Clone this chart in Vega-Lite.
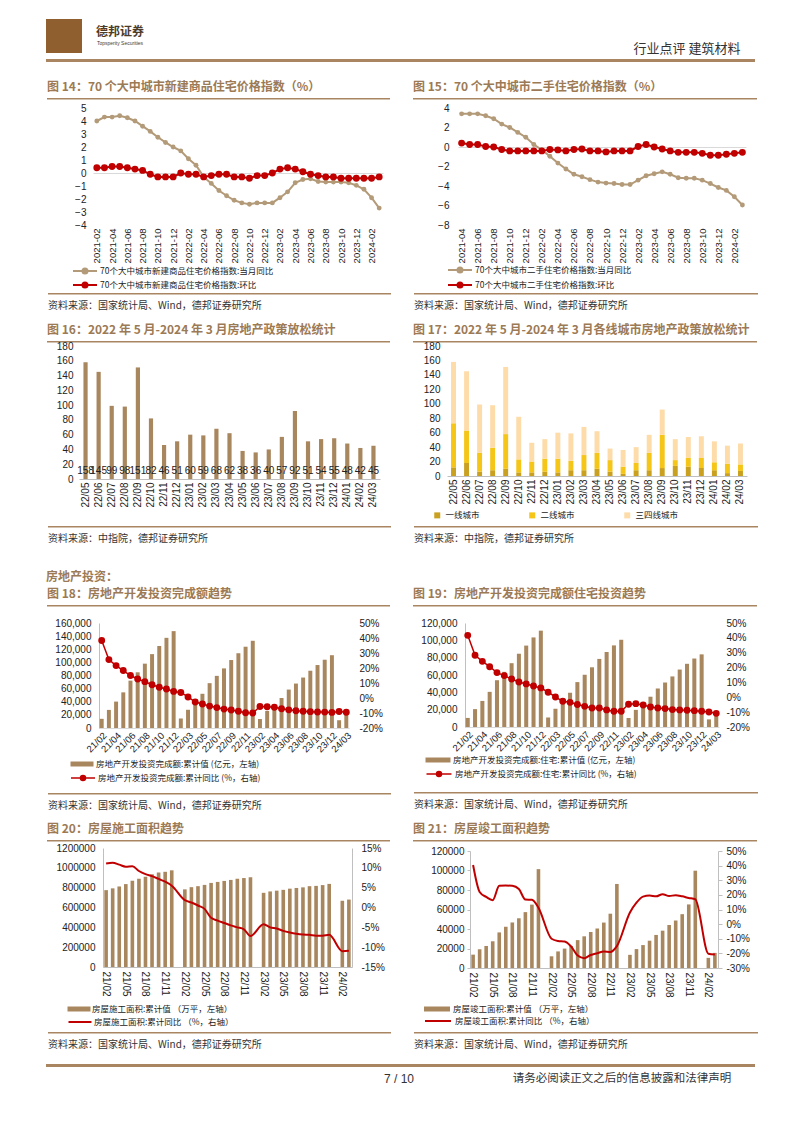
{
"$schema": "https://vega.github.io/schema/vega-lite/v6.json",
"background": "#ffffff",
"padding": {"left": 46, "top": 19, "right": 0, "bottom": 0},
"config": {
  "view": {"stroke": null},
  "font": "Liberation Sans",
  "concat": {"spacing": 0},
  "axis": {"grid": false, "ticks": false, "domain": false, "labelFont": "Liberation Sans", "labelFontSize": 10, "labelColor": "#222222", "labelOverlap": false},
  "legend": {"labelFont": "Noto Sans CJK SC", "labelFontSize": 8.5, "labelColor": "#222222", "labelLimit": 400},
  "title": {"font": "Noto Sans CJK SC", "fontSize": 12, "fontWeight": "bold", "color": "#9c7a55", "anchor": "start", "frame": "bounds"}
},
"datasets": {
  "c14": [
    {"m":"2021-02","a":4.0,"b":0.4},{"m":"2021-03","a":4.3,"b":0.4},{"m":"2021-04","a":4.3,"b":0.5},{"m":"2021-05","a":4.4,"b":0.5},
    {"m":"2021-06","a":4.25,"b":0.4},{"m":"2021-07","a":4.0,"b":0.3},{"m":"2021-08","a":3.6,"b":0.2},{"m":"2021-09","a":3.2,"b":-0.1},
    {"m":"2021-10","a":2.75,"b":-0.3},{"m":"2021-11","a":2.35,"b":-0.3},{"m":"2021-12","a":2.0,"b":-0.3},{"m":"2022-01","a":1.7,"b":0.0},
    {"m":"2022-02","a":1.1,"b":-0.1},{"m":"2022-03","a":0.6,"b":-0.1},{"m":"2022-04","a":-0.3,"b":-0.3},{"m":"2022-05","a":-0.8,"b":-0.2},
    {"m":"2022-06","a":-1.35,"b":-0.1},{"m":"2022-07","a":-1.75,"b":-0.1},{"m":"2022-08","a":-2.1,"b":-0.3},{"m":"2022-09","a":-2.3,"b":-0.3},
    {"m":"2022-10","a":-2.4,"b":-0.4},{"m":"2022-11","a":-2.3,"b":-0.2},{"m":"2022-12","a":-2.3,"b":-0.2},{"m":"2023-01","a":-2.3,"b":0.0},
    {"m":"2023-02","a":-1.9,"b":0.3},{"m":"2023-03","a":-1.45,"b":0.4},{"m":"2023-04","a":-0.75,"b":0.3},{"m":"2023-05","a":-0.5,"b":0.1},
    {"m":"2023-06","a":-0.45,"b":-0.1},{"m":"2023-07","a":-0.65,"b":-0.2},{"m":"2023-08","a":-0.7,"b":-0.3},{"m":"2023-09","a":-0.7,"b":-0.3},
    {"m":"2023-10","a":-0.7,"b":-0.4},{"m":"2023-11","a":-0.75,"b":-0.4},{"m":"2023-12","a":-0.95,"b":-0.4},{"m":"2024-01","a":-1.25,"b":-0.4},
    {"m":"2024-02","a":-1.9,"b":-0.4},{"m":"2024-03","a":-2.7,"b":-0.3}
  ],
  "c15": [
    {"m":"2021-04","a":3.4,"b":0.4},{"m":"2021-05","a":3.4,"b":0.25},{"m":"2021-06","a":3.4,"b":0.25},{"m":"2021-07","a":3.2,"b":0.05},
    {"m":"2021-08","a":2.9,"b":0.0},{"m":"2021-09","a":2.35,"b":-0.25},{"m":"2021-10","a":2.0,"b":-0.4},{"m":"2021-11","a":1.5,"b":-0.4},
    {"m":"2021-12","a":1.0,"b":-0.4},{"m":"2022-01","a":0.25,"b":-0.4},{"m":"2022-02","a":-0.3,"b":-0.4},{"m":"2022-03","a":-0.95,"b":-0.25},
    {"m":"2022-04","a":-1.65,"b":-0.3},{"m":"2022-05","a":-2.25,"b":-0.4},{"m":"2022-06","a":-2.8,"b":-0.25},{"m":"2022-07","a":-3.05,"b":-0.2},
    {"m":"2022-08","a":-3.35,"b":-0.4},{"m":"2022-09","a":-3.6,"b":-0.4},{"m":"2022-10","a":-3.7,"b":-0.5},{"m":"2022-11","a":-3.75,"b":-0.4},
    {"m":"2022-12","a":-3.85,"b":-0.4},{"m":"2023-01","a":-3.85,"b":-0.4},{"m":"2023-02","a":-3.4,"b":0.05},{"m":"2023-03","a":-2.95,"b":0.25},
    {"m":"2023-04","a":-2.75,"b":0.0},{"m":"2023-05","a":-2.55,"b":-0.2},{"m":"2023-06","a":-2.8,"b":-0.4},{"m":"2023-07","a":-3.15,"b":-0.55},
    {"m":"2023-08","a":-3.2,"b":-0.55},{"m":"2023-09","a":-3.2,"b":-0.55},{"m":"2023-10","a":-3.4,"b":-0.65},{"m":"2023-11","a":-3.75,"b":-0.85},
    {"m":"2023-12","a":-4.15,"b":-0.85},{"m":"2024-01","a":-4.45,"b":-0.75},{"m":"2024-02","a":-5.1,"b":-0.65},{"m":"2024-03","a":-5.95,"b":-0.55}
  ],
  "c16": [
    {"m":"22/05","v":158},{"m":"22/06","v":145},{"m":"22/07","v":99},{"m":"22/08","v":98},{"m":"22/09","v":151},{"m":"22/10","v":82},
    {"m":"22/11","v":46},{"m":"22/12","v":51},{"m":"23/01","v":60},{"m":"23/02","v":59},{"m":"23/03","v":68},{"m":"23/04","v":62},
    {"m":"23/05","v":38},{"m":"23/06","v":36},{"m":"23/07","v":40},{"m":"23/08","v":57},{"m":"23/09","v":92},{"m":"23/10","v":51},
    {"m":"23/11","v":54},{"m":"23/12","v":55},{"m":"24/01","v":48},{"m":"24/02","v":42},{"m":"24/03","v":45}
  ],
  "c17": [
    {"m":"22/05","a":12,"b":61,"c":85},{"m":"22/06","a":18,"b":45,"c":82},{"m":"22/07","a":6,"b":26,"c":67},{"m":"22/08","a":8,"b":31,"c":59},
    {"m":"22/09","a":10,"b":48,"c":93},{"m":"22/10","a":5,"b":18,"c":59},{"m":"22/11","a":5,"b":15,"c":26},{"m":"22/12","a":6,"b":18,"c":27},
    {"m":"23/01","a":5,"b":19,"c":36},{"m":"23/02","a":8,"b":13,"c":38},{"m":"23/03","a":8,"b":21,"c":39},{"m":"23/04","a":10,"b":22,"c":30},
    {"m":"23/05","a":6,"b":16,"c":16},{"m":"23/06","a":3,"b":10,"c":23},{"m":"23/07","a":8,"b":10,"c":22},{"m":"23/08","a":8,"b":24,"c":25},
    {"m":"23/09","a":11,"b":46,"c":35},{"m":"23/10","a":14,"b":8,"c":29},{"m":"23/11","a":13,"b":12,"c":29},{"m":"23/12","a":11,"b":14,"c":30},
    {"m":"24/01","a":8,"b":11,"c":29},{"m":"24/02","a":4,"b":13,"c":25},{"m":"24/03","a":7,"b":9,"c":29}
  ],
  "c18": [
    {"m":"21/02","v":13986,"r":38.3},{"m":"21/03","v":27576,"r":25.6},{"m":"21/04","v":40240,"r":21.6},{"m":"21/05","v":54318,"r":18.3},
    {"m":"21/06","v":72179,"r":15.0},{"m":"21/07","v":84895,"r":12.7},{"m":"21/08","v":98060,"r":10.9},{"m":"21/09","v":112568,"r":8.8},
    {"m":"21/10","v":124934,"r":7.2},{"m":"21/11","v":137388,"r":6.0},{"m":"21/12","v":147602,"r":4.4},{"m":"22/02","v":14499,"r":3.7},
    {"m":"22/03","v":27765,"r":0.7},{"m":"22/04","v":39154,"r":-2.7},{"m":"22/05","v":52134,"r":-4.0},{"m":"22/06","v":68314,"r":-5.4},
    {"m":"22/07","v":79462,"r":-6.4},{"m":"22/08","v":90809,"r":-7.4},{"m":"22/09","v":103559,"r":-8.0},{"m":"22/10","v":113945,"r":-8.8},
    {"m":"22/11","v":123863,"r":-9.8},{"m":"22/12","v":132895,"r":-10.0},{"m":"23/02","v":13669,"r":-5.7},{"m":"23/03","v":25974,"r":-5.8},
    {"m":"23/04","v":35514,"r":-6.2},{"m":"23/05","v":45701,"r":-7.2},{"m":"23/06","v":58550,"r":-7.9},{"m":"23/07","v":67717,"r":-8.5},
    {"m":"23/08","v":76900,"r":-8.8},{"m":"23/09","v":87269,"r":-9.1},{"m":"23/10","v":95922,"r":-9.3},{"m":"23/11","v":104045,"r":-9.4},
    {"m":"23/12","v":110913,"r":-9.6},{"m":"24/02","v":11842,"r":-9.0},{"m":"24/03","v":22082,"r":-9.5}
  ],
  "c19": [
    {"m":"21/02","v":10470,"r":41.7},{"m":"21/03","v":20624,"r":28.3},{"m":"21/04","v":30086,"r":24.2},{"m":"21/05","v":40564,"r":20.6},
    {"m":"21/06","v":53970,"r":16.6},{"m":"21/07","v":63626,"r":14.6},{"m":"21/08","v":73634,"r":12.3},{"m":"21/09","v":84545,"r":10.3},
    {"m":"21/10","v":93924,"r":9.0},{"m":"21/11","v":103347,"r":7.6},{"m":"21/12","v":111173,"r":6.3},{"m":"22/02","v":10988,"r":3.4},
    {"m":"22/03","v":21047,"r":0.2},{"m":"22/04","v":29703,"r":-2.7},{"m":"22/05","v":39521,"r":-3.4},{"m":"22/06","v":51804,"r":-4.9},
    {"m":"22/07","v":60281,"r":-6.1},{"m":"22/08","v":68878,"r":-7.2},{"m":"22/09","v":78556,"r":-7.2},{"m":"22/10","v":86554,"r":-8.5},
    {"m":"22/11","v":94150,"r":-9.4},{"m":"22/12","v":100646,"r":-9.4},{"m":"23/02","v":10367,"r":-4.7},{"m":"23/03","v":19767,"r":-4.3},
    {"m":"23/04","v":27085,"r":-5.2},{"m":"23/05","v":34945,"r":-6.5},{"m":"23/06","v":44439,"r":-7.2},{"m":"23/07","v":51340,"r":-7.6},
    {"m":"23/08","v":58335,"r":-8.3},{"m":"23/09","v":66279,"r":-8.5},{"m":"23/10","v":72919,"r":-8.7},{"m":"23/11","v":79016,"r":-9.0},
    {"m":"23/12","v":83820,"r":-9.4},{"m":"24/02","v":8787,"r":-9.9},{"m":"24/03","v":16585,"r":-10.8}
  ],
  "c20": [
    {"m":"21/02","v":775000,"r":11.1},{"m":"21/03","v":793000,"r":11.3},{"m":"21/04","v":812000,"r":10.8},{"m":"21/05","v":836000,"r":10.3},
    {"m":"21/06","v":870000,"r":10.4},{"m":"21/07","v":890000,"r":9.2},{"m":"21/08","v":910000,"r":8.4},{"m":"21/09","v":935000,"r":7.9},
    {"m":"21/10","v":953000,"r":7.2},{"m":"21/11","v":960000,"r":6.5},{"m":"21/12","v":975000,"r":5.5},{"m":"22/02","v":783000,"r":1.85},
    {"m":"22/03","v":805000,"r":1.25},{"m":"22/04","v":815000,"r":0.5},{"m":"22/05","v":828000,"r":-0.35},{"m":"22/06","v":848000,"r":-2.6},
    {"m":"22/07","v":858000,"r":-3.3},{"m":"22/08","v":868000,"r":-3.9},{"m":"22/09","v":878000,"r":-4.5},{"m":"22/10","v":890000,"r":-5.0},
    {"m":"22/11","v":897000,"r":-5.5},{"m":"22/12","v":905000,"r":-7.2},{"m":"23/02","v":748000,"r":-4.2},{"m":"23/03","v":762000,"r":-5.0},
    {"m":"23/04","v":770000,"r":-5.3},{"m":"23/05","v":778000,"r":-5.9},{"m":"23/06","v":790000,"r":-6.3},{"m":"23/07","v":797000,"r":-6.6},
    {"m":"23/08","v":803000,"r":-6.8},{"m":"23/09","v":815000,"r":-6.9},{"m":"23/10","v":818000,"r":-7.1},{"m":"23/11","v":826000,"r":-7.1},
    {"m":"23/12","v":838000,"r":-6.9},{"m":"24/02","v":668000,"r":-11.0},{"m":"24/03","v":680000,"r":-10.9}
  ],
  "c21": [
    {"m":"21/02","v":13700,"r":40.4},{"m":"21/03","v":19200,"r":22.0},{"m":"21/04","v":22600,"r":18.6},{"m":"21/05","v":27400,"r":16.4},
    {"m":"21/06","v":36500,"r":26.2},{"m":"21/07","v":42300,"r":26.4},{"m":"21/08","v":46700,"r":26.2},{"m":"21/09","v":51000,"r":24.0},
    {"m":"21/10","v":57300,"r":16.8},{"m":"21/11","v":65000,"r":16.6},{"m":"21/12","v":101400,"r":11.2},{"m":"22/02","v":12000,"r":-10.0},
    {"m":"22/03","v":17000,"r":-11.5},{"m":"22/04","v":19900,"r":-11.9},{"m":"22/05","v":22600,"r":-15.3},{"m":"22/06","v":28600,"r":-21.5},
    {"m":"22/07","v":32500,"r":-23.3},{"m":"22/08","v":36900,"r":-21.1},{"m":"22/09","v":40500,"r":-19.9},{"m":"22/10","v":46600,"r":-18.7},
    {"m":"22/11","v":55700,"r":-19.0},{"m":"22/12","v":86200,"r":-15.0},{"m":"23/02","v":13500,"r":8.0},{"m":"23/03","v":19400,"r":14.7},
    {"m":"23/04","v":23500,"r":18.8},{"m":"23/05","v":28000,"r":19.6},{"m":"23/06","v":33900,"r":19.0},{"m":"23/07","v":38300,"r":20.5},
    {"m":"23/08","v":44100,"r":19.2},{"m":"23/09","v":48700,"r":19.8},{"m":"23/10","v":55200,"r":19.0},{"m":"23/11","v":65200,"r":17.9},
    {"m":"23/12","v":99800,"r":17.0},{"m":"24/02","v":10400,"r":-20.2},{"m":"24/03","v":15500,"r":-20.7}
  ]
},
"columns": 1, "spacing": 14, "align": "none",
"resolve": {"scale": {"color": "independent", "fill": "independent", "stroke": "independent"}},
"concat": [
 {"columns": 1, "spacing": 12, "align": "none", "resolve": {"scale": {"color": "independent", "fill": "independent", "stroke": "independent"}}, "concat": [
  {"columns": 1, "spacing": 27, "align": "none", "resolve": {"scale": {"color": "independent", "fill": "independent", "stroke": "independent"}}, "concat": [
   {"columns": 1, "spacing": 13, "align": "none", "resolve": {"scale": {"color": "independent", "fill": "independent", "stroke": "independent"}}, "concat": [
    {"columns": 1, "spacing": 19, "align": "none", "resolve": {"scale": {"color": "independent", "fill": "independent", "stroke": "independent"}}, "concat": [
     {"columns": 1, "spacing": 3, "align": "none", "concat": [
      {"columns": 4, "spacing": 12, "align": "none", "concat": [
        {"data": {"values": [{}]}, "mark": {"type": "point", "size": 0, "opacity": 0, "strokeWidth": 0}, "width": 36, "height": 34, "view": {"fill": "#8f5f30", "stroke": null}},
        {"data": {"values": [{}]}, "width": 52, "height": 34, "layer": [
          {"mark": {"type": "text", "text": "德邦证券", "font": "Noto Sans CJK SC", "fontSize": 12, "fontWeight": "bold", "color": "#4d3b2a", "dy": -4}},
          {"mark": {"type": "text", "text": "Topsperity Securities", "font": "Liberation Sans", "fontSize": 5, "color": "#4d3b2a", "dy": 7}}
        ]},
        {"data": {"values": [{}]}, "mark": {"type": "point", "size": 0, "opacity": 0, "strokeWidth": 0}, "width": 456, "height": 34},
        {"data": {"values": [{}]}, "mark": {"type": "text", "text": "行业点评   建筑材料", "font": "Noto Sans CJK SC", "fontSize": 13, "color": "#333333", "dy": 13}, "width": 122, "height": 34}
      ]},
      {"data": {"values": [{}]}, "mark": {"type": "point", "size": 0, "opacity": 0, "strokeWidth": 0}, "width": 709, "height": 3, "view": {"fill": "#a98562", "stroke": null}}
     ]},
     {"columns": 2, "spacing": 21, "align": "none", "resolve": {"scale": {"color": "independent", "fill": "independent", "stroke": "independent"}}, "concat": [
      {"columns": 2, "spacing": {"row": 3, "column": 0}, "align": "none", "resolve": {"scale": {"color": "independent", "stroke": "independent"}}, "concat": [
        {"data": {"values": [{}]}, "mark": {"type": "point", "size": 0, "opacity": 0, "strokeWidth": 0}, "width": 1, "height": 1},
        {"data": {"values": [{}]}, "mark": {"type": "point", "size": 0, "opacity": 0, "strokeWidth": 0}, "width": 343, "height": 1.5, "view": {"fill": "#a98562", "stroke": null}, "title": {"text": "图 14：70 个大中城市新建商品住宅价格指数（%）", "offset": 4}},
        {"data": {"values": [{}]}, "mark": {"type": "point", "size": 0, "opacity": 0, "strokeWidth": 0}, "width": 1, "height": 1},
        {"columns": 2, "spacing": {"row": 30, "column": 0}, "align": "none", "concat": [
          {"data": {"values": [{}]}, "mark": {"type": "point", "size": 0, "opacity": 0, "strokeWidth": 0}, "width": 1, "height": 1},
          {"data": {"name": "c14"}, "width": 290, "height": 117, "resolve": {"scale": {"y": "independent"}}, "layer": [
            {"mark": {"type": "line", "strokeWidth": 2, "point": {"filled": true, "size": 24}},
             "encoding": {
               "x": {"field": "m", "type": "ordinal", "title": null, "scale": {"type": "point", "padding": 0.5},
                     "axis": {"values": ["2021-02","2021-04","2021-06","2021-08","2021-10","2021-12","2022-02","2022-04","2022-06","2022-08","2022-10","2022-12","2023-02","2023-04","2023-06","2023-08","2023-10","2023-12","2024-02"], "labelAngle": 270, "labelPadding": 3, "labelFontSize": 9.5}},
               "y": {"field": "a", "type": "quantitative", "title": null, "scale": {"domain": [-4, 5], "nice": false, "zero": false},
                     "axis": {"orient": "left", "values": [-4,-3,-2,-1,0,1,2,3,4,5], "labelOverlap": false, "labelPadding": 7, "minExtent": 45, "grid": true, "gridColor": "#d9d9d9", "gridOpacity": {"condition": {"test": "datum.value === 0", "value": 1}, "value": 0}}},
               "color": {"datum": "70个大中城市新建商品住宅价格指数:当月同比", "scale": {"range": ["#b39a78"]},
                         "legend": {"orient": "none", "legendX": 32, "legendY": 157, "title": null,
                                    "symbolType": "M-2.4,0H2.4M-0.5,0A0.5,0.5,0,1,1,0.5,0A0.5,0.5,0,1,1,-0.5,0", "symbolSize": 100, "symbolStrokeWidth": 2, "labelOffset": 9}}
             }},
            {"mark": {"type": "line", "strokeWidth": 2, "color": "#c00000", "point": {"filled": true, "fill": "#c00000", "size": 24}},
             "encoding": {
               "x": {"field": "m", "type": "ordinal"},
               "y": {"field": "b", "type": "quantitative", "title": null, "scale": {"domain": [-4, 5], "nice": false, "zero": false}, "axis": null},
               "stroke": {"datum": "70个大中城市新建商品住宅价格指数:环比", "scale": {"range": ["#c00000"]},
                         "legend": {"orient": "none", "legendX": 32, "legendY": 171, "title": null,
                                    "symbolType": "M-2.4,0H2.4M-0.5,0A0.5,0.5,0,1,1,0.5,0A0.5,0.5,0,1,1,-0.5,0", "symbolSize": 100, "symbolStrokeWidth": 2, "labelOffset": 9}}
             }}
          ]},
          {"data": {"values": [{}]}, "mark": {"type": "point", "size": 0, "opacity": 0, "strokeWidth": 0}, "width": 1, "height": 1},
          {"data": {"values": [{}]}, "mark": {"type": "point", "size": 0, "opacity": 0, "strokeWidth": 0}, "width": 343, "height": 1.5, "view": {"fill": "#a98562", "stroke": null}, "title": {"text": "资料来源：国家统计局、Wind，德邦证券研究所", "orient": "bottom", "offset": 6, "fontSize": 10, "fontWeight": "normal", "color": "#333333"}}
        ]}
      ]},
      {"columns": 2, "spacing": {"row": 3, "column": 0}, "align": "none", "resolve": {"scale": {"color": "independent", "stroke": "independent"}}, "concat": [
        {"data": {"values": [{}]}, "mark": {"type": "point", "size": 0, "opacity": 0, "strokeWidth": 0}, "width": 1, "height": 1},
        {"data": {"values": [{}]}, "mark": {"type": "point", "size": 0, "opacity": 0, "strokeWidth": 0}, "width": 344, "height": 1.5, "view": {"fill": "#a98562", "stroke": null}, "title": {"text": "图 15：70 个大中城市二手住宅价格指数（%）", "offset": 4}},
        {"data": {"values": [{}]}, "mark": {"type": "point", "size": 0, "opacity": 0, "strokeWidth": 0}, "width": 1, "height": 1},
        {"columns": 2, "spacing": {"row": 30, "column": 0}, "align": "none", "concat": [
          {"data": {"values": [{}]}, "mark": {"type": "point", "size": 0, "opacity": 0, "strokeWidth": 0}, "width": 1, "height": 1},
          {"data": {"name": "c15"}, "width": 288, "height": 117, "resolve": {"scale": {"y": "independent"}}, "layer": [
            {"mark": {"type": "line", "strokeWidth": 2, "point": {"filled": true, "size": 24}},
             "encoding": {
               "x": {"field": "m", "type": "ordinal", "title": null, "scale": {"type": "point", "padding": 0.45},
                     "axis": {"values": ["2021-04","2021-06","2021-08","2021-10","2021-12","2022-02","2022-04","2022-06","2022-08","2022-10","2022-12","2023-02","2023-04","2023-06","2023-08","2023-10","2023-12","2024-02"], "labelAngle": 270, "labelPadding": 3, "labelFontSize": 9.5}},
               "y": {"field": "a", "type": "quantitative", "title": null, "scale": {"domain": [-8, 4], "nice": false, "zero": false},
                     "axis": {"orient": "left", "values": [-8,-6,-4,-2,0,2,4], "labelOverlap": false, "labelPadding": 9, "minExtent": 44, "grid": true, "gridColor": "#d9d9d9", "gridOpacity": {"condition": {"test": "datum.value === 0", "value": 1}, "value": 0}}},
               "color": {"datum": "70个大中城市二手住宅价格指数:当月同比", "scale": {"range": ["#b39a78"]},
                         "legend": {"orient": "none", "legendX": 41, "legendY": 156, "title": null,
                                    "symbolType": "M-2.4,0H2.4M-0.5,0A0.5,0.5,0,1,1,0.5,0A0.5,0.5,0,1,1,-0.5,0", "symbolSize": 100, "symbolStrokeWidth": 2, "labelOffset": 9}}
             }},
            {"mark": {"type": "line", "strokeWidth": 2, "color": "#c00000", "point": {"filled": true, "fill": "#c00000", "size": 24}},
             "encoding": {
               "x": {"field": "m", "type": "ordinal"},
               "y": {"field": "b", "type": "quantitative", "title": null, "scale": {"domain": [-8, 4], "nice": false, "zero": false}, "axis": null},
               "stroke": {"datum": "70个大中城市二手住宅价格指数:环比", "scale": {"range": ["#c00000"]},
                         "legend": {"orient": "none", "legendX": 41, "legendY": 171, "title": null,
                                    "symbolType": "M-2.4,0H2.4M-0.5,0A0.5,0.5,0,1,1,0.5,0A0.5,0.5,0,1,1,-0.5,0", "symbolSize": 100, "symbolStrokeWidth": 2, "labelOffset": 9}}
             }}
          ]},
          {"data": {"values": [{}]}, "mark": {"type": "point", "size": 0, "opacity": 0, "strokeWidth": 0}, "width": 1, "height": 1},
          {"data": {"values": [{}]}, "mark": {"type": "point", "size": 0, "opacity": 0, "strokeWidth": 0}, "width": 344, "height": 1.5, "view": {"fill": "#a98562", "stroke": null}, "title": {"text": "资料来源：国家统计局、Wind，德邦证券研究所", "orient": "bottom", "offset": 6, "fontSize": 10, "fontWeight": "normal", "color": "#333333"}}
        ]}
      ]}
     ]}
    ]},
    {"columns": 2, "spacing": 21, "align": "none", "resolve": {"scale": {"color": "independent", "fill": "independent", "stroke": "independent"}}, "concat": [
      {"columns": 2, "spacing": {"row": -2, "column": 0}, "align": "none", "concat": [
        {"data": {"values": [{}]}, "mark": {"type": "point", "size": 0, "opacity": 0, "strokeWidth": 0}, "width": 1, "height": 1},
        {"data": {"values": [{}]}, "mark": {"type": "point", "size": 0, "opacity": 0, "strokeWidth": 0}, "width": 343, "height": 1.5, "view": {"fill": "#a98562", "stroke": null}, "title": {"text": "图 16：2022 年 5 月-2024 年 3 月房地产政策放松统计", "offset": 4}},
        {"data": {"values": [{}]}, "mark": {"type": "point", "size": 0, "opacity": 0, "strokeWidth": 0}, "width": 1, "height": 1},
        {"columns": 2, "spacing": {"row": 18, "column": 0}, "align": "none", "concat": [
          {"data": {"values": [{}]}, "mark": {"type": "point", "size": 0, "opacity": 0, "strokeWidth": 0}, "width": 1, "height": 1},
          {"data": {"name": "c16"}, "width": 301, "height": 133, "resolve": {"scale": {"y": "independent"}}, "layer": [
            {"mark": {"type": "bar", "color": "#a8865e"}, "encoding": {
              "x": {"field": "m", "type": "ordinal", "title": null, "scale": {"paddingInner": 0.68, "paddingOuter": 0.34},
                    "axis": {"labelAngle": 270, "labelPadding": 3, "domain": true, "domainColor": "#bfbfbf", "labelFontSize": 10}},
              "y": {"field": "v", "type": "quantitative", "title": null, "scale": {"domain": [0, 180], "nice": false},
                    "axis": {"orient": "left", "values": [0,20,40,60,80,100,120,140,160,180], "labelOverlap": false, "labelPadding": 6, "minExtent": 31}}}},
            {"mark": {"type": "text", "fontSize": 10, "color": "#222222", "font": "Liberation Sans"}, "encoding": {
              "x": {"field": "m", "type": "ordinal"},
              "y": {"datum": 11, "type": "quantitative", "scale": {"domain": [0, 180], "nice": false}, "axis": null},
              "text": {"field": "v", "type": "quantitative"}}}
          ]},
          {"data": {"values": [{}]}, "mark": {"type": "point", "size": 0, "opacity": 0, "strokeWidth": 0}, "width": 1, "height": 1},
          {"data": {"values": [{}]}, "mark": {"type": "point", "size": 0, "opacity": 0, "strokeWidth": 0}, "width": 343, "height": 1.5, "view": {"fill": "#a98562", "stroke": null}, "title": {"text": "资料来源：中指院，德邦证券研究所", "orient": "bottom", "offset": 6, "fontSize": 10, "fontWeight": "normal", "color": "#333333"}}
        ]}
      ]},
      {"columns": 2, "spacing": {"row": -2, "column": 0}, "align": "none", "concat": [
        {"data": {"values": [{}]}, "mark": {"type": "point", "size": 0, "opacity": 0, "strokeWidth": 0}, "width": 1, "height": 1},
        {"data": {"values": [{}]}, "mark": {"type": "point", "size": 0, "opacity": 0, "strokeWidth": 0}, "width": 344, "height": 1.5, "view": {"fill": "#a98562", "stroke": null}, "title": {"text": "图 17：2022 年 5 月-2024 年 3 月各线城市房地产政策放松统计", "offset": 4}},
        {"data": {"values": [{}]}, "mark": {"type": "point", "size": 0, "opacity": 0, "strokeWidth": 0}, "width": 1, "height": 1},
        {"columns": 2, "spacing": {"row": 21, "column": 0}, "align": "none", "concat": [
          {"data": {"values": [{}]}, "mark": {"type": "point", "size": 0, "opacity": 0, "strokeWidth": 0}, "width": 1, "height": 1},
          {"data": {"name": "c17"}, "transform": [{"fold": ["a", "b", "c"], "as": ["k", "v"]}], "width": 300, "height": 130,
           "mark": {"type": "bar"},
           "encoding": {
             "x": {"field": "m", "type": "ordinal", "title": null, "scale": {"paddingInner": 0.62, "paddingOuter": 0.31},
                   "axis": {"labelAngle": 270, "labelPadding": 3, "domain": true, "domainColor": "#bfbfbf", "labelFontSize": 10}},
             "y": {"field": "v", "type": "quantitative", "title": null, "stack": "zero", "scale": {"domain": [0, 180], "nice": false},
                   "axis": {"values": [0,20,40,60,80,100,120,140,160,180], "labelPadding": 7, "minExtent": 33}},
             "color": {"field": "k", "type": "nominal", "scale": {"domain": ["a", "b", "c"], "range": ["#c9a020", "#f5c518", "#fddcaa"]},
                       "legend": {"orient": "none", "legendX": 21, "legendY": 170, "direction": "horizontal", "columns": 3, "gridAlign": "all", "columnPadding": 39,
                                  "symbolType": "square", "symbolSize": 36, "labelOffset": 4, "title": null,
                                  "labelExpr": "datum.value === 'a' ? '一线城市' : datum.value === 'b' ? '二线城市' : '三四线城市'"}},
             "order": {"field": "k", "sort": "ascending"}
           }},
          {"data": {"values": [{}]}, "mark": {"type": "point", "size": 0, "opacity": 0, "strokeWidth": 0}, "width": 1, "height": 1},
          {"data": {"values": [{}]}, "mark": {"type": "point", "size": 0, "opacity": 0, "strokeWidth": 0}, "width": 344, "height": 1.5, "view": {"fill": "#a98562", "stroke": null}, "title": {"text": "资料来源：中指院，德邦证券研究所", "orient": "bottom", "offset": 6, "fontSize": 10, "fontWeight": "normal", "color": "#333333"}}
        ]}
      ]}
    ]}
   ]},
   {"columns": 2, "spacing": 21, "align": "none", "resolve": {"scale": {"color": "independent", "fill": "independent", "stroke": "independent"}}, "title": {"text": "房地产投资：", "offset": 4}, "concat": [
      {"columns": 2, "spacing": {"row": 11, "column": 0}, "align": "none", "resolve": {"scale": {"fill": "independent", "stroke": "independent"}}, "concat": [
        {"data": {"values": [{}]}, "mark": {"type": "point", "size": 0, "opacity": 0, "strokeWidth": 0}, "width": 1, "height": 1},
        {"data": {"values": [{}]}, "mark": {"type": "point", "size": 0, "opacity": 0, "strokeWidth": 0}, "width": 343, "height": 1.5, "view": {"fill": "#a98562", "stroke": null}, "title": {"text": "图 18：房地产开发投资完成额趋势", "offset": 4}},
        {"data": {"values": [{}]}, "mark": {"type": "point", "size": 0, "opacity": 0, "strokeWidth": 0}, "width": 1, "height": 1},
        {"columns": 2, "spacing": {"row": 39, "column": 0}, "align": "none", "concat": [
          {"data": {"values": [{}]}, "mark": {"type": "point", "size": 0, "opacity": 0, "strokeWidth": 0}, "width": 1, "height": 1},
          {"data": {"name": "c18"}, "width": 250, "height": 105, "layer": [
            {"mark": {"type": "bar"}, "encoding": {
              "x": {"field": "m", "type": "ordinal", "title": null, "scale": {"paddingInner": 0.45, "paddingOuter": 0.1},
                    "axis": {"values": ["21/02","21/04","21/06","21/08","21/10","21/12","22/03","22/05","22/07","22/09","22/11","23/02","23/04","23/06","23/08","23/10","23/12","24/03"], "labelAngle": 315, "labelPadding": 2, "labelFontSize": 9.5, "domain": true, "domainColor": "#d9d9d9"}},
              "y": {"field": "v", "type": "quantitative", "title": null, "scale": {"domain": [0, 160000], "nice": false},
                    "axis": {"orient": "left", "values": [0,20000,40000,60000,80000,100000,120000,140000,160000], "format": ",d", "labelPadding": 8, "minExtent": 51, "domain": true, "domainColor": "#bfbfbf"}},
              "fill": {"datum": "房地产开发投资完成额:累计值 (亿元，左轴)", "scale": {"range": ["#a8865e"]},
                       "legend": {"orient": "none", "legendX": 30, "legendY": 136, "title": null, "symbolType": "M-2.3,-0.5H2.3V0.5H-2.3Z", "symbolSize": 100, "symbolStrokeWidth": 0, "labelOffset": 9}}}},
            {"mark": {"type": "line", "color": "#c00000", "strokeWidth": 1.5, "point": {"filled": true, "fill": "#c00000", "size": 24}}, "encoding": {
              "x": {"field": "m", "type": "ordinal"},
              "y": {"field": "r", "type": "quantitative", "title": null, "scale": {"domain": [-20, 50], "nice": false},
                    "axis": {"orient": "right", "values": [-20,-10,0,10,20,30,40,50], "labelExpr": "datum.value + '%'", "labelPadding": 10}},
              "stroke": {"datum": "房地产开发投资完成额:累计同比 (%，右轴)", "scale": {"range": ["#c00000"]},
                         "legend": {"orient": "none", "legendX": 30, "legendY": 149, "title": null, "symbolType": "M-2.4,0H2.4M-0.5,0A0.5,0.5,0,1,1,0.5,0A0.5,0.5,0,1,1,-0.5,0", "symbolSize": 100, "symbolStrokeWidth": 1.5, "labelOffset": 9}}}}
          ], "resolve": {"scale": {"y": "independent"}}},
          {"data": {"values": [{}]}, "mark": {"type": "point", "size": 0, "opacity": 0, "strokeWidth": 0}, "width": 1, "height": 1},
          {"data": {"values": [{}]}, "mark": {"type": "point", "size": 0, "opacity": 0, "strokeWidth": 0}, "width": 343, "height": 1.5, "view": {"fill": "#a98562", "stroke": null}, "title": {"text": "资料来源：国家统计局、Wind，德邦证券研究所", "orient": "bottom", "offset": 6, "fontSize": 10, "fontWeight": "normal", "color": "#333333"}}
        ]}
      ]},
      {"columns": 2, "spacing": {"row": 11, "column": 0}, "align": "none", "resolve": {"scale": {"fill": "independent", "stroke": "independent"}}, "concat": [
        {"data": {"values": [{}]}, "mark": {"type": "point", "size": 0, "opacity": 0, "strokeWidth": 0}, "width": 1, "height": 1},
        {"data": {"values": [{}]}, "mark": {"type": "point", "size": 0, "opacity": 0, "strokeWidth": 0}, "width": 344, "height": 1.5, "view": {"fill": "#a98562", "stroke": null}, "title": {"text": "图 19：房地产开发投资完成额住宅投资趋势", "offset": 4}},
        {"data": {"values": [{}]}, "mark": {"type": "point", "size": 0, "opacity": 0, "strokeWidth": 0}, "width": 1, "height": 1},
        {"columns": 2, "spacing": {"row": 39, "column": 0}, "align": "none", "concat": [
          {"data": {"values": [{}]}, "mark": {"type": "point", "size": 0, "opacity": 0, "strokeWidth": 0}, "width": 1, "height": 1},
          {"data": {"name": "c19"}, "width": 254, "height": 104, "layer": [
            {"mark": {"type": "bar"}, "encoding": {
              "x": {"field": "m", "type": "ordinal", "title": null, "scale": {"paddingInner": 0.45, "paddingOuter": 0.1},
                    "axis": {"values": ["21/02","21/04","21/06","21/08","21/10","21/12","22/03","22/05","22/07","22/09","22/11","23/02","23/04","23/06","23/08","23/10","23/12","24/03"], "labelAngle": 315, "labelPadding": 2, "labelFontSize": 9.5, "domain": true, "domainColor": "#d9d9d9"}},
              "y": {"field": "v", "type": "quantitative", "title": null, "scale": {"domain": [0, 120000], "nice": false},
                    "axis": {"orient": "left", "values": [0,20000,40000,60000,80000,100000,120000], "format": ",d", "labelPadding": 8, "minExtent": 51, "domain": true, "domainColor": "#bfbfbf"}},
              "fill": {"datum": "房地产开发投资完成额:住宅:累计值 (亿元，左轴)", "scale": {"range": ["#a8865e"]},
                       "legend": {"orient": "none", "legendX": 20, "legendY": 132, "title": null, "symbolType": "M-2.5,-0.5H2.5V0.5H-2.5Z", "symbolSize": 100, "symbolStrokeWidth": 0, "labelOffset": 10}}}},
            {"mark": {"type": "line", "color": "#c00000", "strokeWidth": 1.5, "point": {"filled": true, "fill": "#c00000", "size": 24}}, "encoding": {
              "x": {"field": "m", "type": "ordinal"},
              "y": {"field": "r", "type": "quantitative", "title": null, "scale": {"domain": [-20, 50], "nice": false},
                    "axis": {"orient": "right", "values": [-20,-10,0,10,20,30,40,50], "labelExpr": "datum.value + '%'", "labelPadding": 7}},
              "stroke": {"datum": "房地产开发投资完成额:住宅:累计同比 (%，右轴)", "scale": {"range": ["#c00000"]},
                         "legend": {"orient": "none", "legendX": 20, "legendY": 145, "title": null, "symbolType": "M-2.5,0H2.5M-0.5,0A0.5,0.5,0,1,1,0.5,0A0.5,0.5,0,1,1,-0.5,0", "symbolSize": 100, "symbolStrokeWidth": 1.5, "labelOffset": 10}}}}
          ], "resolve": {"scale": {"y": "independent"}}},
          {"data": {"values": [{}]}, "mark": {"type": "point", "size": 0, "opacity": 0, "strokeWidth": 0}, "width": 1, "height": 1},
          {"data": {"values": [{}]}, "mark": {"type": "point", "size": 0, "opacity": 0, "strokeWidth": 0}, "width": 344, "height": 1.5, "view": {"fill": "#a98562", "stroke": null}, "title": {"text": "资料来源：国家统计局、Wind，德邦证券研究所", "orient": "bottom", "offset": 6, "fontSize": 10, "fontWeight": "normal", "color": "#333333"}}
        ]}
      ]}
   ]}
  ]},
  {"columns": 2, "spacing": 21, "align": "none", "resolve": {"scale": {"color": "independent", "fill": "independent", "stroke": "independent"}}, "concat": [
    {"columns": 2, "spacing": {"row": 1, "column": 0}, "align": "none", "resolve": {"scale": {"fill": "independent", "stroke": "independent"}}, "concat": [
      {"data": {"values": [{}]}, "mark": {"type": "point", "size": 0, "opacity": 0, "strokeWidth": 0}, "width": 1, "height": 1},
      {"data": {"values": [{}]}, "mark": {"type": "point", "size": 0, "opacity": 0, "strokeWidth": 0}, "width": 343, "height": 1.5, "view": {"fill": "#a98562", "stroke": null}, "title": {"text": "图 20：房屋施工面积趋势", "offset": 4}},
      {"data": {"values": [{}]}, "mark": {"type": "point", "size": 0, "opacity": 0, "strokeWidth": 0}, "width": 1, "height": 1},
      {"columns": 2, "spacing": {"row": 35, "column": 0}, "align": "none", "concat": [
        {"data": {"values": [{}]}, "mark": {"type": "point", "size": 0, "opacity": 0, "strokeWidth": 0}, "width": 1, "height": 1},
        {"data": {"name": "c20"}, "width": 249, "height": 119, "layer": [
          {"mark": {"type": "bar"}, "encoding": {
            "x": {"field": "m", "type": "ordinal", "title": null,
                  "scale": {"domain": ["21/02","21/03","21/04","21/05","21/06","21/07","21/08","21/09","21/10","21/11","21/12","22/01","22/02","22/03","22/04","22/05","22/06","22/07","22/08","22/09","22/10","22/11","22/12","23/01","23/02","23/03","23/04","23/05","23/06","23/07","23/08","23/09","23/10","23/11","23/12","24/01","24/02","24/03"], "paddingInner": 0.45, "paddingOuter": 0.2},
                  "axis": {"values": ["21/02","21/05","21/08","21/11","22/02","22/05","22/08","22/11","23/02","23/05","23/08","23/11","24/02"], "labelAngle": 90, "labelPadding": 4, "labelFontSize": 10, "domain": true, "domainColor": "#bfbfbf"}},
            "y": {"field": "v", "type": "quantitative", "title": null, "scale": {"domain": [0, 1200000], "nice": false},
                  "axis": {"orient": "left", "values": [0,200000,400000,600000,800000,1000000,1200000], "format": "d", "labelPadding": 8, "minExtent": 55, "domain": true, "domainColor": "#bfbfbf"}},
            "fill": {"datum": "房屋施工面积:累计值  （万平，左轴）", "scale": {"range": ["#a8865e"]},
                     "legend": {"orient": "none", "legendX": 27, "legendY": 156, "title": null, "symbolType": "M-2.3,-0.5H2.3V0.5H-2.3Z", "symbolSize": 100, "symbolStrokeWidth": 0, "labelOffset": 8}}}},
          {"mark": {"type": "line", "color": "#c00000", "strokeWidth": 2, "interpolate": "monotone"}, "encoding": {
            "x": {"field": "m", "type": "ordinal"},
            "y": {"field": "r", "type": "quantitative", "title": null, "scale": {"domain": [-15, 15], "nice": false},
                  "axis": {"orient": "right", "values": [-15,-10,-5,0,5,10,15], "labelExpr": "datum.value + '%'", "labelPadding": 9, "domain": true, "domainColor": "#bfbfbf"}},
            "stroke": {"datum": "房屋施工面积:累计同比  （%，右轴）", "scale": {"range": ["#c00000"]},
                       "legend": {"orient": "none", "legendX": 27, "legendY": 168, "title": null, "symbolType": "M-2.3,0H2.3", "symbolSize": 100, "symbolStrokeWidth": 2, "labelOffset": 8}}}}
        ], "resolve": {"scale": {"y": "independent"}}},
        {"data": {"values": [{}]}, "mark": {"type": "point", "size": 0, "opacity": 0, "strokeWidth": 0}, "width": 1, "height": 1},
        {"data": {"values": [{}]}, "mark": {"type": "point", "size": 0, "opacity": 0, "strokeWidth": 0}, "width": 343, "height": 1.5, "view": {"fill": "#a98562", "stroke": null}, "title": {"text": "资料来源：国家统计局、Wind，德邦证券研究所", "orient": "bottom", "offset": 6, "fontSize": 10, "fontWeight": "normal", "color": "#333333"}}
      ]}
    ]},
    {"columns": 2, "spacing": {"row": 4, "column": 0}, "align": "none", "resolve": {"scale": {"fill": "independent", "stroke": "independent"}}, "concat": [
      {"data": {"values": [{}]}, "mark": {"type": "point", "size": 0, "opacity": 0, "strokeWidth": 0}, "width": 1, "height": 1},
      {"data": {"values": [{}]}, "mark": {"type": "point", "size": 0, "opacity": 0, "strokeWidth": 0}, "width": 344, "height": 1.5, "view": {"fill": "#a98562", "stroke": null}, "title": {"text": "图 21：房屋竣工面积趋势", "offset": 4}},
      {"data": {"values": [{}]}, "mark": {"type": "point", "size": 0, "opacity": 0, "strokeWidth": 0}, "width": 1, "height": 1},
      {"columns": 2, "spacing": {"row": 34, "column": 0}, "align": "none", "concat": [
        {"data": {"values": [{}]}, "mark": {"type": "point", "size": 0, "opacity": 0, "strokeWidth": 0}, "width": 1, "height": 1},
        {"data": {"name": "c21"}, "width": 248, "height": 117, "layer": [
          {"mark": {"type": "bar"}, "encoding": {
            "x": {"field": "m", "type": "ordinal", "title": null,
                  "scale": {"domain": ["21/02","21/03","21/04","21/05","21/06","21/07","21/08","21/09","21/10","21/11","21/12","22/01","22/02","22/03","22/04","22/05","22/06","22/07","22/08","22/09","22/10","22/11","22/12","23/01","23/02","23/03","23/04","23/05","23/06","23/07","23/08","23/09","23/10","23/11","23/12","24/01","24/02","24/03"], "paddingInner": 0.45, "paddingOuter": 0.2},
                  "axis": {"values": ["21/02","21/05","21/08","21/11","22/02","22/05","22/08","22/11","23/02","23/05","23/08","23/11","24/02"], "labelAngle": 90, "labelPadding": 4, "labelFontSize": 10, "domain": true, "domainColor": "#bfbfbf"}},
            "y": {"field": "v", "type": "quantitative", "title": null, "scale": {"domain": [0, 120000], "nice": false},
                  "axis": {"orient": "left", "values": [0,20000,40000,60000,80000,100000,120000], "format": "d", "labelPadding": 3, "minExtent": 56, "domain": true, "domainColor": "#bfbfbf", "ticks": true, "tickSize": 3, "tickColor": "#bfbfbf"}},
            "fill": {"datum": "房屋竣工面积:累计值  （万平，左轴）", "scale": {"range": ["#a8865e"]},
                     "legend": {"orient": "none", "legendX": 19, "legendY": 153, "title": null, "symbolType": "M-2.6,-0.5H2.6V0.5H-2.6Z", "symbolSize": 100, "symbolStrokeWidth": 0, "labelOffset": 11}}}},
          {"mark": {"type": "line", "color": "#c00000", "strokeWidth": 2, "interpolate": "monotone"}, "encoding": {
            "x": {"field": "m", "type": "ordinal"},
            "y": {"field": "r", "type": "quantitative", "title": null, "scale": {"domain": [-30, 50], "nice": false},
                  "axis": {"orient": "right", "values": [-30,-20,-10,0,10,20,30,40,50], "labelExpr": "datum.value + '%'", "labelPadding": 4, "domain": true, "domainColor": "#bfbfbf", "ticks": true, "tickSize": 4, "tickColor": "#bfbfbf"}},
            "stroke": {"datum": "房屋竣工面积:累计同比  （%，右轴）", "scale": {"range": ["#c00000"]},
                       "legend": {"orient": "none", "legendX": 19, "legendY": 164, "title": null, "symbolType": "M-2.6,0H2.6", "symbolSize": 100, "symbolStrokeWidth": 2, "labelOffset": 11}}}}
        ], "resolve": {"scale": {"y": "independent"}}},
        {"data": {"values": [{}]}, "mark": {"type": "point", "size": 0, "opacity": 0, "strokeWidth": 0}, "width": 1, "height": 1},
        {"data": {"values": [{}]}, "mark": {"type": "point", "size": 0, "opacity": 0, "strokeWidth": 0}, "width": 344, "height": 1.5, "view": {"fill": "#a98562", "stroke": null}, "title": {"text": "资料来源：国家统计局、Wind，德邦证券研究所", "orient": "bottom", "offset": 6, "fontSize": 10, "fontWeight": "normal", "color": "#333333"}}
      ]}
    ]}
  ]}
 ]},
 {"columns": 1, "spacing": 5, "align": "none", "concat": [
   {"data": {"values": [{}]}, "mark": {"type": "point", "size": 0, "opacity": 0, "strokeWidth": 0}, "width": 709, "height": 3, "view": {"fill": "#a98562", "stroke": null}},
   {"columns": 4, "spacing": 0, "align": "none", "concat": [
     {"data": {"values": [{}]}, "mark": {"type": "point", "size": 0, "opacity": 0, "strokeWidth": 0}, "width": 323, "height": 14},
     {"data": {"values": [{}]}, "mark": {"type": "text", "text": "7 / 10", "font": "Liberation Sans", "fontSize": 12, "color": "#333333"}, "width": 60, "height": 14},
     {"data": {"values": [{}]}, "mark": {"type": "point", "size": 0, "opacity": 0, "strokeWidth": 0}, "width": 83, "height": 14},
     {"data": {"values": [{}]}, "mark": {"type": "text", "text": "请务必阅读正文之后的信息披露和法律声明", "font": "Noto Sans CJK SC", "fontSize": 11.5, "color": "#333333"}, "width": 220, "height": 14}
   ]}
 ]}
]
}
